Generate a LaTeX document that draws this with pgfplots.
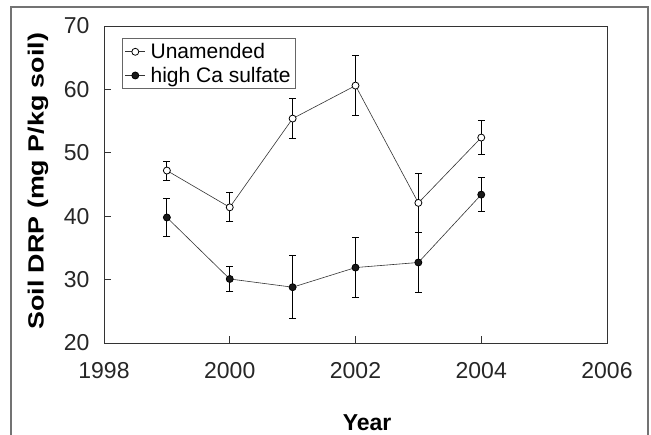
\documentclass[border=0pt]{standalone}
\usepackage{pgfplots}
\pgfplotsset{compat=1.18}
\usepackage{fontspec}
\setmainfont{Liberation Sans}
\definecolor{axgray}{gray}{0.2}
\definecolor{framegray}{gray}{0.45}
\begin{document}
\begin{tikzpicture}
\useasboundingbox (0,0) rectangle (651bp,435bp);
\begin{axis}[
  at={(104bp,92bp)}, anchor=south west,
  scale only axis, width=503bp, height=317bp,
  xmin=1998, xmax=2006, ymin=20, ymax=70,
  xtick={1998,2000,2002,2004,2006},
  ytick={20,30,40,50,60,70},
  /pgf/number format/assume math mode=true,
  /pgf/number format/1000 sep={},
  tick pos=left, tick align=inside,
  major tick length=7bp,
  tick style={axgray, line width=0.8pt},
  axis line style={axgray, line width=1pt},
  ticklabel style={font=\fontsize{23bp}{27bp}\selectfont, text=black!85},
  xticklabel style={yshift=-16bp},
  yticklabel style={xshift=-11bp},
  xlabel={\textbf{Year}},
  xlabel style={font=\fontsize{23bp}{27bp}\selectfont, at={(axis description cs:0.523,-0.252)}, anchor=center},
  ylabel={\scalebox{1.22}[1]{\textbf{Soil DRP (mg P/kg soil)}}},
  ylabel style={font=\fontsize{22bp}{26bp}\selectfont, at={(axis description cs:-0.131,0.51)}, anchor=center},
  legend style={at={(0.035,0.962)}, anchor=north west, draw=black!60, line width=0.8pt,
    font=\fontsize{21bp}{25bp}\selectfont, inner xsep=3bp, inner ysep=3bp,
    row sep=3bp, cells={anchor=west},
    /tikz/every odd column/.append style={column sep=3bp}},
  legend image code/.code={\draw[mark repeat=2,mark phase=2,#1] plot coordinates {(0bp,0bp) (10bp,0bp) (20bp,0bp)};},
]
\addplot[axgray, line width=0.6pt, mark=*, mark size=3.5bp,
  mark options={fill=white, draw=black, line width=0.8pt},
  error bars/.cd, y dir=both, y explicit,
  error bar style={black, line width=1pt},
  error mark options={black, line width=1pt, mark size=3.5bp, rotate=90}]
  table[x=x, y=y, y error=e] {
x y e
1999 47.2 1.5
2000 41.4 2.3
2001 55.4 3.1
2002 60.6 4.7
2003 42.1 4.7
2004 52.4 2.7
};
\addlegendentry{Unamended}
\addplot[axgray, line width=0.6pt, mark=*, mark size=3.5bp,
  mark options={fill=black!90, draw=black, line width=0.8pt},
  error bars/.cd, y dir=both, y explicit,
  error bar style={black, line width=1pt},
  error mark options={black, line width=1pt, mark size=3.5bp, rotate=90}]
  table[x=x, y=y, y error=e] {
x y e
1999 39.8 3.0
2000 30.1 1.9
2001 28.8 5.0
2002 31.9 4.7
2003 32.7 4.7
2004 43.4 2.7
};
\addlegendentry{high Ca sulfate}
\end{axis}
\draw[framegray, line width=1.2pt] (11bp,0bp) -- (11bp,428bp) -- (648bp,428bp) -- (648bp,0bp);
\end{tikzpicture}
\end{document}
